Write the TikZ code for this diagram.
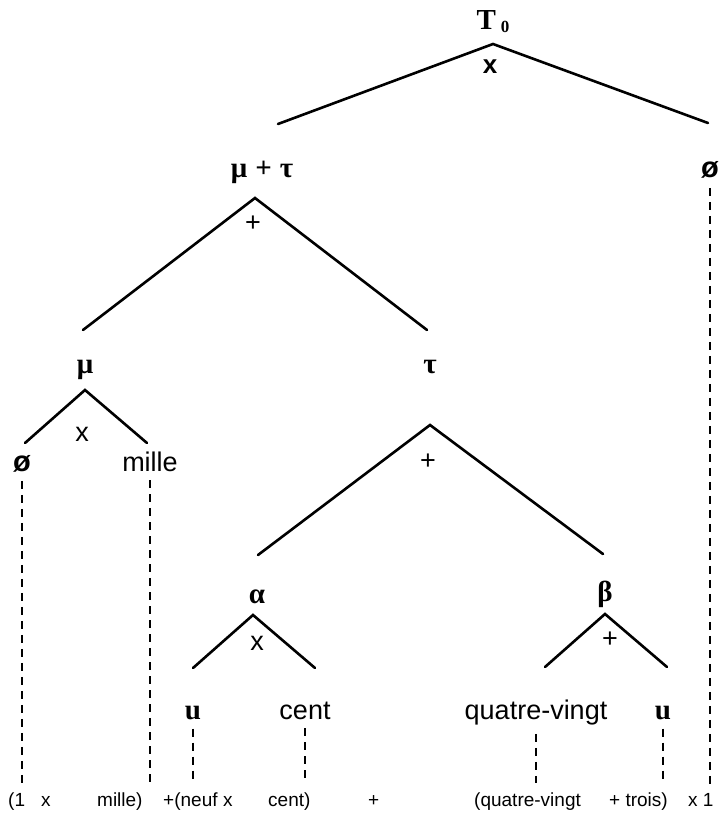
\documentclass[tikz,border=0pt]{standalone}
\usepackage{fontspec}
\setmainfont{Liberation Sans}
\newfontfamily\grk{Liberation Serif}
\usetikzlibrary{positioning}
\tikzset{
  branch/.style={line width=2.6pt,line cap=round},
  link/.style={line width=2.2pt,dash pattern=on 8pt off 6pt,shorten >=9pt},
  sym/.style={font=\fontsize{29}{29}\selectfont\grk\bfseries,inner sep=0pt,anchor=base},
  nul/.style={font=\fontsize{29}{29}\selectfont\bfseries,inner sep=0pt,anchor=base},
  word/.style={font=\fontsize{27}{27}\selectfont,inner sep=0pt,anchor=base},
  op/.style={font=\fontsize{27}{27}\selectfont,inner sep=0pt,anchor=base},
  gloss/.style={font=\fontsize{19}{19}\selectfont,inner sep=0pt,anchor=base west},
}

\begin{document}
\begin{tikzpicture}[x=1pt,y=-1pt]
\useasboundingbox (0,0) rectangle (721,821);
% T0
\node[sym] (t0) at (493,30) {T\,\raisebox{-3pt}{\fontsize{17}{17}\selectfont 0}};
\node[op,font=\fontsize{26}{26}\selectfont\bfseries] (x0) at (490,74) {x};
\coordinate (a0) at (493,44);
\coordinate (a0l) at (278,124);
\coordinate (a0r) at (708,123);
\draw[branch] (a0l) -- (a0) -- (a0r);
% mu + tau
\node[sym] (mt) at (262,178) {μ\;+\;τ};
\node[nul] (zr) at (710,178) {ø};
\node[op] (p1) at (253,231) {+};
\coordinate (a1) at (255,198);
\coordinate (a1l) at (83,330);
\coordinate (a1r) at (427,330);
\draw[branch] (a1l) -- (a1) -- (a1r);
% mu
\node[sym] (mu) at (85,373) {μ};
\node[op] (xm) at (82,441) {x};
\coordinate (am) at (85,390);
\coordinate (aml) at (25,443);
\coordinate (amr) at (147,443);
\draw[branch] (aml) -- (am) -- (amr);
\node[nul] (zl) at (22,471) {ø};
\node[word] (mil) at (150,471) {mille};
% tau
\node[sym] (tau) at (430,373) {τ};
\node[op] (pt) at (428,469) {+};
\coordinate (at) at (430,425);
\coordinate (atl) at (258,555);
\coordinate (atr) at (603,554);
\draw[branch] (atl) -- (at) -- (atr);
% alpha
\node[sym] (alp) at (257,603) {α};
\node[op] (xa) at (257,650) {x};
\coordinate (aa) at (253,615);
\coordinate (aal) at (193,668);
\coordinate (aar) at (315,668);
\draw[branch] (aal) -- (aa) -- (aar);
\node[sym] (ul) at (193,719) {u};
\node[word] (ce) at (305,719) {cent};
% beta
\node[sym] (bet) at (605,601) {β};
\node[op] (pb) at (610,647) {+};
\coordinate (ab) at (605,614);
\coordinate (abl) at (545,667);
\coordinate (abr) at (667,667);
\draw[branch] (abl) -- (ab) -- (abr);
\node[word] (qv) at (536,719) {quatre-vingt};
\node[sym] (ur) at (663,719) {u};
% bottom line
\node[gloss] (g1) at (8,806) {(1};
\node[gloss] (g2) at (41,806) {x};
\node[gloss] (g3) at (97,806) {mille)};
\node[gloss] (g4) at (163,806) {+(neuf};
\node[gloss] (g5) at (223,806) {x};
\node[gloss] (g6) at (268,806) {cent)};
\node[gloss] (g7) at (368,806) {+};
\node[gloss] (g8) at (474,806) {(quatre-vingt};
\node[gloss] (g9) at (609,806) {+ trois)};
\node[gloss] (g10) at (688,806) {x 1};
\foreach \a/\b in {zl/g1,mil/g3,ul/g4,ce/g6,qv/g8,ur/g9,zr/g10}
  \draw[link] ([yshift=-9pt]\a.south) -- (\a.south |- \b.north);
\end{tikzpicture}
\end{document}
